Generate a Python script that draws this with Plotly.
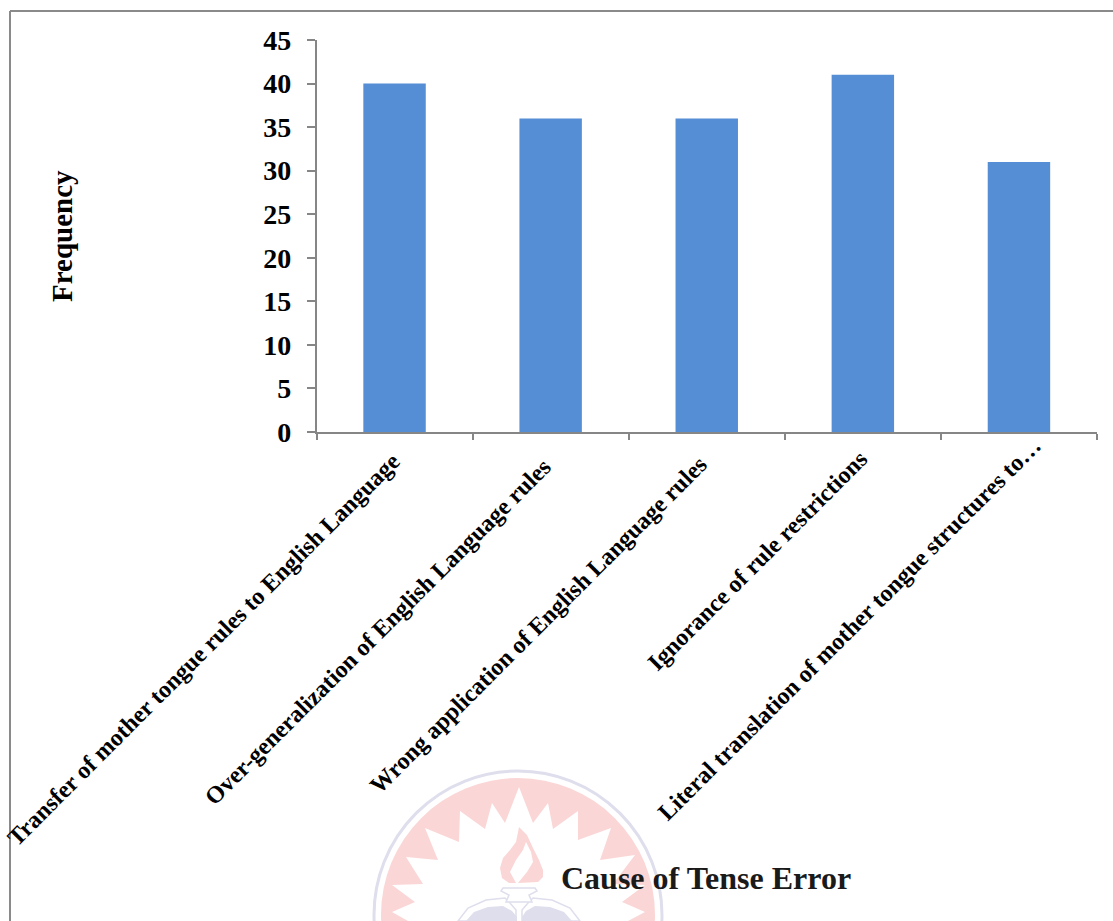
import plotly.graph_objects as go

WIDTH, HEIGHT = 1113, 921

categories = [
    "Transfer of mother tongue rules to English Language",
    "Over-generalization of English Language rules",
    "Wrong application of English Language rules",
    "Ignorance of rule restrictions",
    "Literal translation of mother tongue structures to…",
]
frequency = [40, 36, 36, 41, 31]
y_ticks = [0, 5, 10, 15, 20, 25, 30, 35, 40, 45]

# Horizontal and vertical pixel offsets for each slanted category label
label_dx = [14, 8, 8, 12, 30]
label_dy = [-13, -19, -17, -11, 2]

SERIF = "Liberation Serif, Times New Roman, serif"
AXIS_GRAY = "#868686"
BAR_BLUE = "#558ED5"
SEAL_PINK = "#FBD6D6"
SEAL_LAVENDER = "#DEDEED"


def px(x):
    return x / WIDTH


def py(y):
    return 1 - y / HEIGHT


def polygon(points):
    """SVG path in paper coordinates from a list of pixel points."""
    head, *rest = points
    d = f"M{px(head[0])},{py(head[1])}"
    d += "".join(f"L{px(a)},{py(b)}" for a, b in rest)
    return d + "Z"


def seal_shape(points, fill, line=None, width=0):
    return dict(
        type="path", xref="paper", yref="paper", layer="below",
        path=polygon(points), fillcolor=fill,
        line=dict(color=line or fill, width=width),
    )


def circle(cx, cy, r, fill, line=None, width=0):
    return dict(
        type="circle", xref="paper", yref="paper", layer="below",
        x0=px(cx - r), x1=px(cx + r), y0=py(cy + r), y1=py(cy - r),
        fillcolor=fill, line=dict(color=line or fill, width=width),
    )


# University seal printed faintly behind the chart
starburst = [
    (519, 787), (533, 823), (548, 803), (553, 829), (578, 811), (578, 840),
    (611, 828), (600, 860), (635, 855), (613, 884), (645, 885), (622, 902),
    (645, 912), (628, 921), (408, 921), (392, 912), (415, 902), (392, 885),
    (423, 884), (406, 857), (438, 860), (425, 828), (459, 842), (460, 811),
    (485, 829), (492, 803), (505, 823),
]
flame = [
    (519, 827), (527, 835), (533, 848), (539, 860), (543, 870), (543, 877),
    (538, 882), (518, 883), (527, 872), (533, 862), (531, 852), (526, 842),
    (523, 850), (516, 860), (510, 872), (516, 883), (509, 883), (502, 878),
    (500, 868), (503, 858), (510, 850), (516, 842),
]
left_outline = [
    (516, 921), (458, 921), (468, 908), (486, 900), (505, 898), (510, 903), (516, 910),
]
right_outline = [
    (522, 921), (580, 921), (570, 908), (552, 900), (533, 898), (528, 903), (522, 910),
]
left_heart = [
    (517, 921), (466, 921), (474, 912), (488, 907), (503, 906), (512, 911), (517, 917),
]
right_heart = [
    (522, 921), (572, 921), (564, 912), (550, 907), (535, 906), (526, 911), (522, 917),
]
lamp_lid = [
    (503, 888), (535, 888), (537, 891), (529, 895), (532, 902), (506, 902), (509, 895), (501, 891),
]

shapes = [
    circle(518, 915, 144, "rgba(0,0,0,0)", SEAL_LAVENDER, 3),
    circle(518, 915, 137, SEAL_PINK),
    seal_shape(starburst, "#FFFFFF"),
    seal_shape(flame, SEAL_PINK),
    seal_shape(left_outline, "#FFFFFF", SEAL_LAVENDER, 1.5),
    seal_shape(right_outline, "#FFFFFF", SEAL_LAVENDER, 1.5),
    seal_shape(left_heart, SEAL_LAVENDER),
    seal_shape(right_heart, SEAL_LAVENDER),
    seal_shape(lamp_lid, "#FFFFFF", SEAL_LAVENDER, 1.5),
    # Page frame along the left and top edges
    dict(type="line", xref="paper", yref="paper", layer="above",
         x0=px(10), x1=px(10), y0=0, y1=py(11), line=dict(color="#8A8A8A", width=2)),
    dict(type="line", xref="paper", yref="paper", layer="above",
         x0=px(10), x1=1, y0=py(11), y1=py(11), line=dict(color="#8A8A8A", width=2)),
]

category_labels = [
    dict(text=f"<b>{name}</b>", xref="x", yref="paper", x=name, y=py(432),
         xanchor="right", yanchor="top", xshift=dx, yshift=dy,
         showarrow=False, textangle=-45,
         font=dict(family=SERIF, size=24, color="#000000"))
    for name, dx, dy in zip(categories, label_dx, label_dy)
]

fig = go.Figure(
    go.Bar(
        x=categories, y=frequency, width=0.4,
        marker=dict(color=BAR_BLUE, line=dict(width=0)),
    )
)

fig.update_layout(
    width=WIDTH, height=HEIGHT,
    margin=dict(l=0, r=0, t=0, b=0),
    paper_bgcolor="#FFFFFF", plot_bgcolor="rgba(0,0,0,0)",
    showlegend=False,
    font=dict(family=SERIF, color="#000000"),
    shapes=shapes,
    annotations=category_labels + [
        dict(text="<b>Frequency</b>", xref="paper", yref="paper",
             x=px(62), y=py(236), xanchor="center", yanchor="middle",
             showarrow=False, textangle=-90,
             font=dict(family=SERIF, size=29, color="#000000")),
        dict(text="<b>Cause of Tense Error</b>", xref="paper", yref="paper",
             x=px(706), y=py(878), xanchor="center", yanchor="middle",
             showarrow=False,
             font=dict(family=SERIF, size=32, color="#1A1A1A")),
    ],
)

fig.update_xaxes(
    domain=[px(316.5), px(1097)],
    type="category", categoryorder="array", categoryarray=categories,
    range=[-0.5, len(categories) - 0.5],
    tickson="boundaries", ticks="outside", ticklen=6, tickwidth=1.5, tickcolor=AXIS_GRAY,
    showline=True, linecolor=AXIS_GRAY, linewidth=2,
    showgrid=False, zeroline=False, automargin=False,
    showticklabels=False,
)

fig.update_yaxes(
    domain=[py(432), py(40)],
    range=[0, 45], tickvals=y_ticks,
    ticks="outside", ticklen=8, tickwidth=1.5, tickcolor=AXIS_GRAY,
    ticklabelstandoff=10,
    showline=True, linecolor=AXIS_GRAY, linewidth=1.5,
    showgrid=False, zeroline=False, automargin=False,
    tickfont=dict(family=SERIF, size=28, color="#000000", weight="bold"),
)

fig.write_html("out.html")
